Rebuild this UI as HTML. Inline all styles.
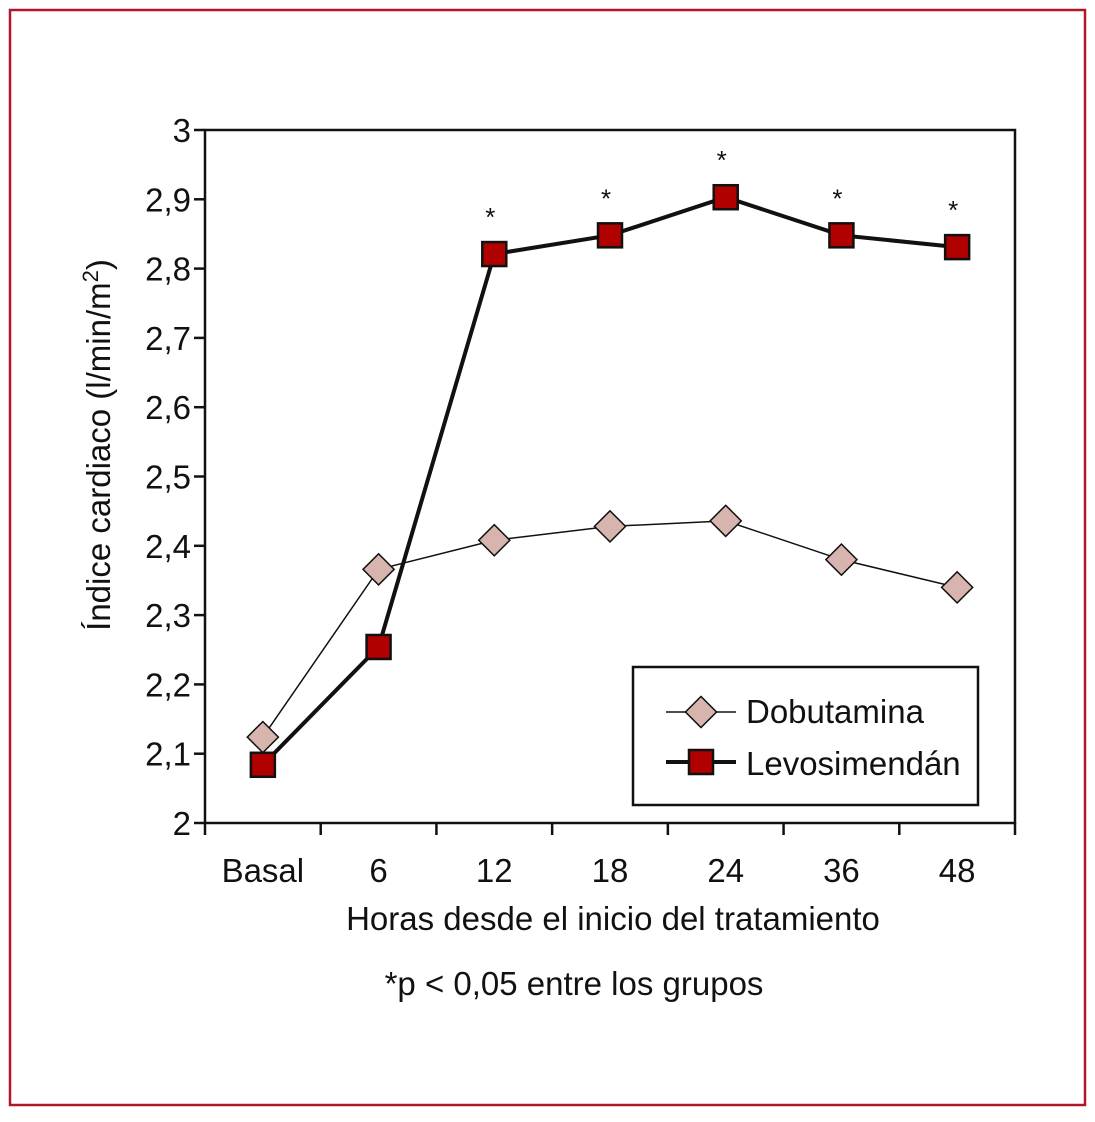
<!DOCTYPE html>
<html><head><meta charset="utf-8"><style>
body{margin:0;background:#fff;}
svg text{font-family:"Liberation Sans Narrow","Liberation Sans",sans-serif;fill:#111;}
</style></head><body>
<svg id="chart" width="1095" height="1117" viewBox="0 0 1095 1117" xmlns="http://www.w3.org/2000/svg">
<rect x="10" y="10" width="1075" height="1095" fill="#fff" stroke="#b0182a" stroke-width="2.5"/>
<rect x="205" y="130" width="810" height="693" fill="none" stroke="#111" stroke-width="2.5"/>
<g id="axes"></g>
<g id="marks"></g>
<text transform="translate(110,445) rotate(-90)" text-anchor="middle" font-size="33">Índice cardiaco (l/min/m<tspan font-size="22" dy="-12">2</tspan><tspan dy="12">)</tspan></text>
<text x="613" y="930" text-anchor="middle" font-size="33">Horas desde el inicio del tratamiento</text>
<text x="574" y="995" text-anchor="middle" font-size="33">*p &lt; 0,05 entre los grupos</text>
<g>
<rect x="633" y="667" width="345" height="138" fill="#fff" stroke="#111" stroke-width="2.5"/>
<line x1="666" y1="712" x2="736" y2="712" stroke="#111" stroke-width="1.5"/>
<rect x="690" y="701" width="22" height="22" transform="rotate(45 701 712)" fill="#d8b4ae" stroke="#111" stroke-width="1.5"/>
<text x="746" y="723" font-size="33">Dobutamina</text>
<line x1="666" y1="762" x2="736" y2="762" stroke="#111" stroke-width="4"/>
<rect x="689" y="750" width="24" height="24" fill="#b00000" stroke="#111" stroke-width="2.5"/>
<text x="746" y="775" font-size="33">Levosimendán</text>
</g>
</svg>
<script>
const categories=["Basal","6","12","18","24","36","48"];
const dobutamina=[2.124,2.366,2.408,2.428,2.436,2.38,2.34];
const levosimendan=[2.084,2.254,2.821,2.848,2.903,2.848,2.831];
const significant=[false,false,true,true,true,true,true];
const yTicks=[2,2.1,2.2,2.3,2.4,2.5,2.6,2.7,2.8,2.9,3];
const yTickLabels=["2","2,1","2,2","2,3","2,4","2,5","2,6","2,7","2,8","2,9","3"];
const NS="http://www.w3.org/2000/svg";
const L=205,R=1015,T=130,B=823;
const bw=(R-L)/categories.length;
const x=i=>L+bw*(i+0.5);
const y=v=>B-(v-2)/(3-2)*(B-T);
function mk(tag,attrs,parent){const e=document.createElementNS(NS,tag);for(const k in attrs)e.setAttribute(k,attrs[k]);parent.appendChild(e);return e;}
const ax=document.getElementById('axes'),mg=document.getElementById('marks');
yTicks.forEach((v,i)=>{
 const t=mk('line',{x1:L-11,x2:L,y1:y(v),y2:y(v),stroke:'#111','stroke-width':2.5},ax);
 
 
 const tx=mk('text',{x:L-14,y:y(v)+12,'text-anchor':'end','font-size':33},ax);
 tx.textContent=yTickLabels[i];
 
 
});
for(let i=0;i<=categories.length;i++){
 const t=mk('line',{x1:L+bw*i,x2:L+bw*i,y1:B,y2:B+12,stroke:'#111','stroke-width':2.5},ax);
 
 
}
categories.forEach((c,i)=>{
 const tx=mk('text',{x:x(i),y:882,'text-anchor':'middle','font-size':33},ax);
 tx.textContent=c;
 
 
});
const dl=mk('polyline',{points:dobutamina.map((v,i)=>x(i)+','+y(v)).join(' '),fill:'none',stroke:'#111','stroke-width':1.5},mg);


const ll=mk('polyline',{points:levosimendan.map((v,i)=>x(i)+','+y(v)).join(' '),fill:'none',stroke:'#111','stroke-width':4},mg);


dobutamina.forEach((v,i)=>{
 const p=mk('rect',{x:x(i)-11,y:y(v)-11,width:22,height:22,transform:`rotate(45 ${x(i)} ${y(v)})`,fill:'#d8b4ae',stroke:'#111','stroke-width':1.5},mg);
 
 
});
levosimendan.forEach((v,i)=>{
 const p=mk('rect',{x:x(i)-12,y:y(v)-12,width:24,height:24,fill:'#b00000',stroke:'#111','stroke-width':2.5},mg);
 
 
 if(significant[i]){
  const s=mk('text',{x:x(i)-4,y:y(v)-28,'text-anchor':'middle','font-size':26},mg);
  s.textContent='*';
  
  
 }
});
</script>
</body></html>
